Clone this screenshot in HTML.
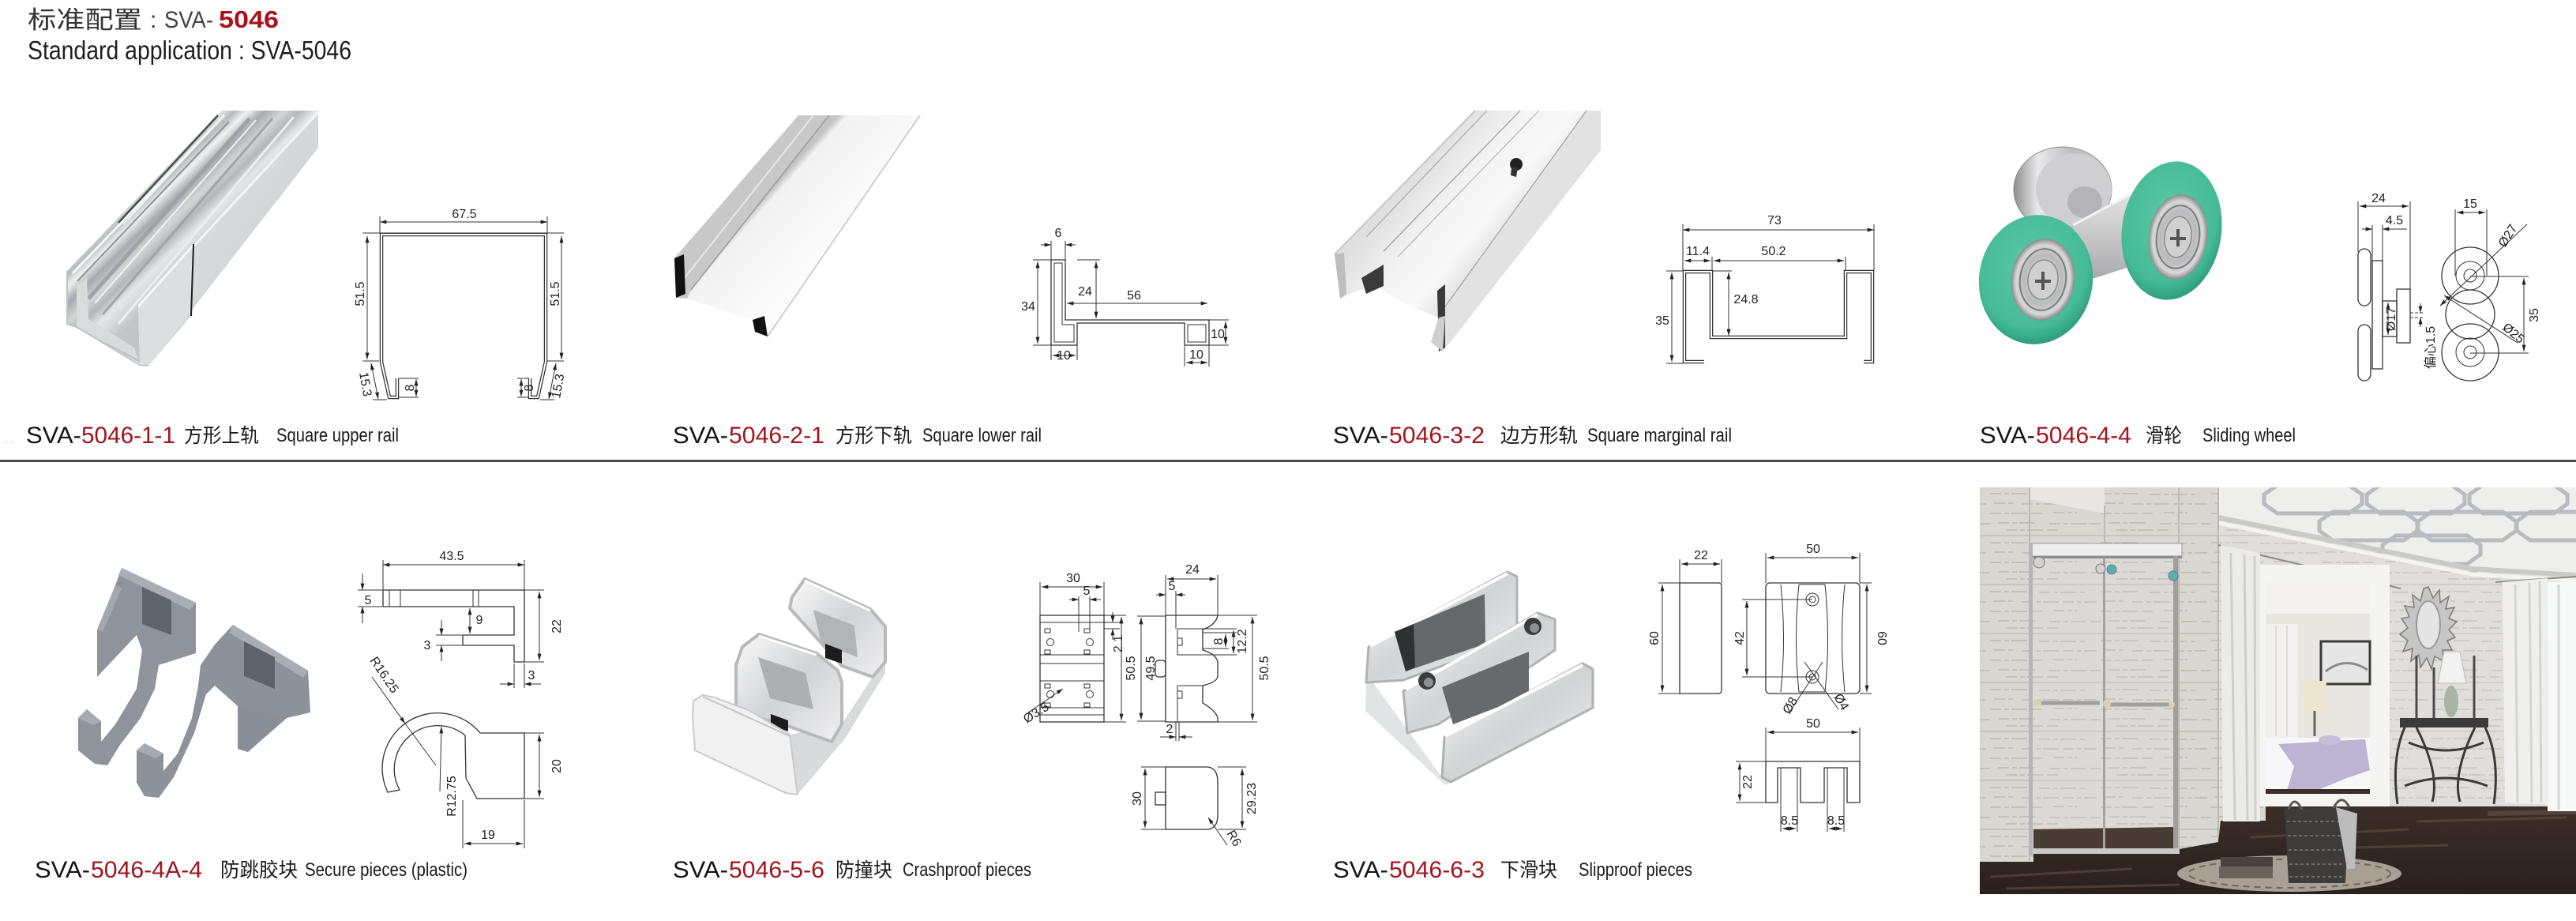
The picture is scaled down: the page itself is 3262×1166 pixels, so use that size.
<!DOCTYPE html>
<html><head><meta charset="utf-8">
<style>
html,body{margin:0;padding:0;background:#fff;}
svg{display:block}
.ln{stroke:#333;stroke-width:1.3;fill:none}
.dm{stroke:#333;stroke-width:1;fill:none}
.tx{font-family:"Liberation Sans",sans-serif;font-size:16px;fill:#222}
.lb{font-family:"Liberation Sans","Noto Sans CJK SC",sans-serif}
</style></head><body>
<svg width="3262" height="1166" viewBox="0 0 3262 1166" xmlns="http://www.w3.org/2000/svg">
<defs>
<marker id="a" viewBox="0 0 10 6" refX="10" refY="3" markerWidth="9" markerHeight="5" markerUnits="userSpaceOnUse" orient="auto-start-reverse"><path d="M0,0 L10,3 L0,6 Z" fill="#222"/></marker>
<linearGradient id="ch1" gradientUnits="userSpaceOnUse" x1="180" y1="236" x2="260" y2="318">
<stop offset="0" stop-color="#e9eaeb"/><stop offset=".12" stop-color="#b7bbbf"/><stop offset=".22" stop-color="#eef0f1"/><stop offset=".35" stop-color="#a6aaae"/><stop offset=".5" stop-color="#d3d6d8"/><stop offset=".62" stop-color="#b3b7bb"/><stop offset=".75" stop-color="#e4e6e7"/><stop offset="1" stop-color="#c2c5c8"/></linearGradient>
<linearGradient id="rf1" x1="0" y1="0" x2="1" y2="1"><stop offset="0" stop-color="#e3e5e6"/><stop offset="1" stop-color="#c8cbce"/></linearGradient>
<linearGradient id="r2" gradientUnits="userSpaceOnUse" x1="940" y1="230" x2="1040" y2="320"><stop offset="0" stop-color="#d6d6d6"/><stop offset=".25" stop-color="#c2c2c2"/><stop offset=".32" stop-color="#f2f2f2"/><stop offset="1" stop-color="#fbfbfb"/></linearGradient>
<linearGradient id="r3" gradientUnits="userSpaceOnUse" x1="1780" y1="230" x2="1900" y2="330"><stop offset="0" stop-color="#dedede"/><stop offset=".4" stop-color="#f4f4f4"/><stop offset=".7" stop-color="#f8f8f8"/><stop offset="1" stop-color="#d8d8d8"/></linearGradient>
<linearGradient id="sil" x1="0" y1="0" x2="1" y2="0"><stop offset="0" stop-color="#8e8e90"/><stop offset=".25" stop-color="#e9e9ea"/><stop offset=".6" stop-color="#bdbdbf"/><stop offset="1" stop-color="#d6d6d8"/></linearGradient>
<linearGradient id="axl" x1="0" y1="0" x2="0" y2="1"><stop offset="0" stop-color="#e6e6e6"/><stop offset="1" stop-color="#a9a9ab"/></linearGradient>
<radialGradient id="grn" cx=".45" cy=".4" r=".6"><stop offset="0" stop-color="#5cc9a5"/><stop offset=".8" stop-color="#45bb95"/><stop offset="1" stop-color="#2f9f7e"/></radialGradient>
<radialGradient id="brg" cx=".5" cy=".5" r=".5"><stop offset="0" stop-color="#e8e8e8"/><stop offset=".6" stop-color="#b9babb"/><stop offset=".85" stop-color="#d8d8d8"/><stop offset="1" stop-color="#8a8a8a"/></radialGradient>
<linearGradient id="chr" x1="0" y1="0" x2="1" y2="1"><stop offset="0" stop-color="#fafafa"/><stop offset=".5" stop-color="#d2d3d5"/><stop offset="1" stop-color="#f0f0f1"/></linearGradient>
<pattern id="tile" patternUnits="userSpaceOnUse" width="140" height="62" x="0" y="617">
<rect width="140" height="62" fill="#d9d7d2"/>
<path d="M0,8 H50 M62,9 H120 M5,20 H30 M40,21 H135 M0,33 H70 M80,32 H110 M10,45 H60 M75,46 H140 M20,54 H90" stroke="#b7b2aa" stroke-width="1.3" stroke-dasharray="14 4 6 3 20 5"/>
<path d="M0,61 H140" stroke="#c6c3bd" stroke-width="2"/>
</pattern>
<linearGradient id="flr" x1="0" y1="0" x2="0" y2="1"><stop offset="0" stop-color="#3e302a"/><stop offset="1" stop-color="#2a201c"/></linearGradient>
<clipPath id="ceil"><polygon points="2809,617 3262,617 3262,728 3130,720 2809,655"/></clipPath>
</defs>

<!-- HEADER -->
<text x="35" y="36" class="lb" font-size="31" fill="#333" textLength="145" lengthAdjust="spacingAndGlyphs">标准配置</text>
<text x="190" y="35" class="lb" font-size="30" fill="#333">:</text>
<text x="208" y="35" class="lb" font-size="30" fill="#444" textLength="62" lengthAdjust="spacingAndGlyphs">SVA-</text>
<text x="277" y="35" class="lb" font-size="31" font-weight="bold" fill="#a5141c" textLength="76" lengthAdjust="spacingAndGlyphs">5046</text>
<text x="35" y="75" class="lb" font-size="33" fill="#1e1e1e" textLength="410" lengthAdjust="spacingAndGlyphs">Standard application : SVA-5046</text>

<!-- LABELS ROW 1 -->
<g class="lb">
<text x="6" y="561" font-size="14" fill="#e0a9a9">.  .</text>
<text x="33" y="561" font-size="30" fill="#151515" textLength="70" lengthAdjust="spacingAndGlyphs">SVA-</text>
<text x="103" y="561" font-size="30" fill="#a3141c" textLength="119" lengthAdjust="spacingAndGlyphs">5046-1-1</text>
<text x="233" y="560" font-size="25" fill="#1a1a1a" textLength="95" lengthAdjust="spacingAndGlyphs">方形上轨</text>
<text x="350" y="559" font-size="24" fill="#1a1a1a" textLength="155" lengthAdjust="spacingAndGlyphs">Square upper rail</text>

<text x="852" y="561" font-size="30" fill="#151515" textLength="70" lengthAdjust="spacingAndGlyphs">SVA-</text>
<text x="923" y="561" font-size="30" fill="#a3141c" textLength="121" lengthAdjust="spacingAndGlyphs">5046-2-1</text>
<text x="1058" y="560" font-size="25" fill="#1a1a1a" textLength="97" lengthAdjust="spacingAndGlyphs">方形下轨</text>
<text x="1168" y="559" font-size="24" fill="#1a1a1a" textLength="151" lengthAdjust="spacingAndGlyphs">Square lower rail</text>

<text x="1688" y="561" font-size="30" fill="#151515" textLength="70" lengthAdjust="spacingAndGlyphs">SVA-</text>
<text x="1759" y="561" font-size="30" fill="#a3141c" textLength="121" lengthAdjust="spacingAndGlyphs">5046-3-2</text>
<text x="1900" y="560" font-size="25" fill="#1a1a1a" textLength="98" lengthAdjust="spacingAndGlyphs">边方形轨</text>
<text x="2010" y="559" font-size="24" fill="#1a1a1a" textLength="183" lengthAdjust="spacingAndGlyphs">Square marginal rail</text>

<text x="2507" y="561" font-size="30" fill="#151515" textLength="70" lengthAdjust="spacingAndGlyphs">SVA-</text>
<text x="2578" y="561" font-size="30" fill="#a3141c" textLength="121" lengthAdjust="spacingAndGlyphs">5046-4-4</text>
<text x="2717" y="560" font-size="25" fill="#1a1a1a" textLength="46" lengthAdjust="spacingAndGlyphs">滑轮</text>
<text x="2789" y="559" font-size="24" fill="#1a1a1a" textLength="118" lengthAdjust="spacingAndGlyphs">Sliding wheel</text>

<!-- LABELS ROW 2 -->
<text x="44" y="1111" font-size="30" fill="#151515" textLength="70" lengthAdjust="spacingAndGlyphs">SVA-</text>
<text x="115" y="1111" font-size="30" fill="#a3141c" textLength="141" lengthAdjust="spacingAndGlyphs">5046-4A-4</text>
<text x="279" y="1110" font-size="25" fill="#1a1a1a" textLength="98" lengthAdjust="spacingAndGlyphs">防跳胶块</text>
<text x="386" y="1109" font-size="24" fill="#1a1a1a" textLength="206" lengthAdjust="spacingAndGlyphs">Secure pieces (plastic)</text>

<text x="852" y="1111" font-size="30" fill="#151515" textLength="70" lengthAdjust="spacingAndGlyphs">SVA-</text>
<text x="923" y="1111" font-size="30" fill="#a3141c" textLength="121" lengthAdjust="spacingAndGlyphs">5046-5-6</text>
<text x="1058" y="1110" font-size="25" fill="#1a1a1a" textLength="72" lengthAdjust="spacingAndGlyphs">防撞块</text>
<text x="1143" y="1109" font-size="24" fill="#1a1a1a" textLength="163" lengthAdjust="spacingAndGlyphs">Crashproof pieces</text>

<text x="1688" y="1111" font-size="30" fill="#151515" textLength="70" lengthAdjust="spacingAndGlyphs">SVA-</text>
<text x="1759" y="1111" font-size="30" fill="#a3141c" textLength="121" lengthAdjust="spacingAndGlyphs">5046-6-3</text>
<text x="1900" y="1110" font-size="25" fill="#1a1a1a" textLength="72" lengthAdjust="spacingAndGlyphs">下滑块</text>
<text x="1999" y="1109" font-size="24" fill="#1a1a1a" textLength="144" lengthAdjust="spacingAndGlyphs">Slipproof pieces</text>
</g>

<!-- DIVIDER -->
<rect x="0" y="582" width="3262" height="3" fill="#4a4a4a"/>

<!-- PHOTO 1: upper rail -->
<g>
<polygon points="85,343 280,140 403,140 245,310 175,388 177,460 97,414 85,410" fill="url(#ch1)"/>
<path d="M92,346 L284,146" stroke="#f6f6f6" stroke-width="3"/>
<path d="M98,356 L290,154" stroke="#8f9498" stroke-width="2"/>
<path d="M150,282 L276,146" stroke="#4a4d50" stroke-width="2.5"/>
<path d="M156,284 L282,148" stroke="#f4f4f4" stroke-width="2"/>
<path d="M112,378 L316,150" stroke="#9ea3a7" stroke-width="5"/>
<path d="M120,384 L324,152" stroke="#f2f3f3" stroke-width="2"/>
<path d="M130,398 L345,150" stroke="#a0a5a9" stroke-width="3"/>
<path d="M150,410 L372,148" stroke="#eceeef" stroke-width="3"/>
<polygon points="175,388 245,310 242,400 188,463 177,460" fill="#dcdee0"/>
<path d="M175,388 L245,310" stroke="#f8f8f8" stroke-width="3"/>
<polygon points="245,310 403,140 403,187 188,463 242,400" fill="url(#rf1)"/>
<path d="M245,312 L403,142" stroke="#f5f5f5" stroke-width="3"/>
<path d="M245,309 L242,400" stroke="#1e1e1e" stroke-width="2"/>
<polygon points="97,362 110,352 112,404 170,440 175,455 97,414" fill="#d9dbdd"/>
<path d="M85,343 L85,410 L97,414 L177,462 L188,463" stroke="#bfc2c5" stroke-width="2" fill="none"/>
</g>

<!-- DRAWING 1 -->
<g>
<path class="dm" d="M481,281 H693" marker-start="url(#a)" marker-end="url(#a)"/>
<text class="tx" x="588" y="276" text-anchor="middle">67.5</text>
<path class="dm" d="M481,274 V296 M693,274 V296 M459,295 H714"/>
<path d="M503,479 V503 H493 L483,458 V297 H691 V458 L681,503 H671 V479" fill="none" stroke="#333" stroke-width="4.5"/>
<path d="M503,479 V503 H493 L483,458 V297 H691 V458 L681,503 H671 V479" fill="none" stroke="#fff" stroke-width="2"/>
<path class="dm" d="M465,299 V455" marker-start="url(#a)" marker-end="url(#a)"/>
<path class="dm" d="M711,299 V455" marker-start="url(#a)" marker-end="url(#a)"/>
<text class="tx" transform="translate(461,372) rotate(-90)" text-anchor="middle">51.5</text>
<text class="tx" transform="translate(708,372) rotate(-90)" text-anchor="middle">51.5</text>
<path class="dm" d="M459,457 H480 M693,457 H714"/>
<path class="dm" d="M470,460 L479,505" marker-start="url(#a)" marker-end="url(#a)"/>
<path class="dm" d="M704,460 L695,505" marker-start="url(#a)" marker-end="url(#a)"/>
<text class="tx" transform="translate(455,472) rotate(80)">15.3</text>
<text class="tx" transform="translate(709,505) rotate(-80)">15.3</text>
<path class="dm" d="M505,479 H530 M505,503 H530 M655,479 H670 M655,503 H670 M472,506 H490 M684,506 H702"/>
<path class="dm" d="M527,480 V502" marker-start="url(#a)" marker-end="url(#a)"/>
<path class="dm" d="M660,480 V502" marker-start="url(#a)" marker-end="url(#a)"/>
<text class="tx" transform="translate(524,491) rotate(-90)" text-anchor="middle">8</text>
<text class="tx" transform="translate(675,491) rotate(-90)" text-anchor="middle">8</text>
</g>

<!-- PHOTO 2: lower rail -->
<g>
<polygon points="1011,146 1165,146 972,426 953,420 954,405 870,378 856,377 854,327" fill="url(#r2)"/>
<polygon points="1011,146 1050,146 875,367 870,378 856,377 854,327" fill="#c8c8c8"/>
<path d="M1050,146 L875,367" stroke="#9a9a9a" stroke-width="1.5"/>
<path d="M1030,146 L862,358" stroke="#e8e8e8" stroke-width="2"/>
<path d="M1165,146 L972,426" stroke="#d0d0d0" stroke-width="2"/>
<polygon points="854,327 866,322 868,372 856,377" fill="#111"/>
<polygon points="953,405 968,400 972,426 956,420" fill="#111"/>
</g>

<!-- DRAWING 2 -->
<g>
<path class="ln" d="M1331,329 H1349 V405 H1531 V437 H1500 V409 H1364 V437 H1331 Z"/>
<path class="dm" d="M1335,333 H1345 V411 H1360 V433 H1335 Z M1504,411 H1527 V433 H1504 Z"/>
<path class="dm" d="M1331,305 V329 M1349,305 V329"/>
<path class="dm" d="M1318,310 H1331" marker-end="url(#a)"/>
<path class="dm" d="M1362,310 H1349" marker-end="url(#a)"/>
<text class="tx" x="1340" y="300" text-anchor="middle">6</text>
<path class="dm" d="M1308,329 H1331 M1364,329 H1393 M1308,437 H1331 M1531,405 H1556 M1531,437 H1556"/>
<path class="dm" d="M1314,331 V435" marker-start="url(#a)" marker-end="url(#a)"/>
<text class="tx" x="1302" y="393" text-anchor="middle">34</text>
<path class="dm" d="M1388,331 V403" marker-start="url(#a)" marker-end="url(#a)"/>
<text class="tx" x="1374" y="374" text-anchor="middle">24</text>
<path class="dm" d="M1351,384 H1529" marker-start="url(#a)" marker-end="url(#a)"/>
<text class="tx" x="1436" y="379" text-anchor="middle">56</text>
<path class="dm" d="M1552,407 V435" marker-start="url(#a)" marker-end="url(#a)"/>
<text class="tx" x="1542" y="428" text-anchor="middle">10</text>
<path class="dm" d="M1331,437 V456 M1364,437 V456 M1500,437 V464 M1531,437 V464"/>
<path class="dm" d="M1333,450 H1362" marker-start="url(#a)" marker-end="url(#a)"/>
<text class="tx" x="1347" y="455" text-anchor="middle">10</text>
<path class="dm" d="M1502,459 H1529" marker-start="url(#a)" marker-end="url(#a)"/>
<text class="tx" x="1515" y="454" text-anchor="middle">10</text>
</g>

<!-- PHOTO 3: marginal rail -->
<g>
<polygon points="1868,140 2027,140 2027,190 1827,445 1812,433 1822,402 1780,385 1738,360 1697,378 1690,322" fill="url(#r3)"/>
<polygon points="2009,140 2027,140 2027,190 1827,445 1825,395" fill="#e2e2e2"/>
<path d="M1690,322 L1868,140" stroke="#c6c6c6" stroke-width="2"/>
<path d="M1883,140 L1730,300" stroke="#a8a8a8" stroke-width="1.2"/>
<path d="M1925,140 L1752,318" stroke="#9a9a9a" stroke-width="1.2"/>
<path d="M1949,140 L1770,325" stroke="#b4b4b4" stroke-width="1.2"/>
<path d="M2009,140 L1825,395" stroke="#a0a0a0" stroke-width="1.2"/>
<polygon points="1690,322 1702,320 1705,372 1697,378" fill="#bdbdbd"/>
<polygon points="1724,352 1752,335 1752,362 1730,372" fill="#3a3a3a"/>
<polygon points="1820,368 1830,360 1830,440 1822,445" fill="#3a3a3a"/>
<polygon points="1812,433 1822,402 1830,400 1827,445" fill="#cfcfcf"/>
<circle cx="1920" cy="208" r="8" fill="#222"/>
<polygon points="1914,212 1922,212 1920,224 1913,222" fill="#333"/>
</g>

<!-- DRAWING 3 -->
<g>
<path class="dm" d="M2131,291 H2373" marker-start="url(#a)" marker-end="url(#a)"/>
<text class="tx" x="2247" y="284" text-anchor="middle">73</text>
<path class="dm" d="M2131,284 V343 M2373,284 V343 M2168,325 V343 M2337,325 V343"/>
<path class="dm" d="M2133,330 H2166" marker-start="url(#a)" marker-end="url(#a)"/>
<text class="tx" x="2150" y="323" text-anchor="middle">11.4</text>
<path class="dm" d="M2170,330 H2335" marker-start="url(#a)" marker-end="url(#a)"/>
<text class="tx" x="2246" y="323" text-anchor="middle">50.2</text>
<path d="M2158,458 H2133 V344 H2167 V427 H2337 V344 H2371 V458 H2360" fill="none" stroke="#333" stroke-width="4.5"/>
<path d="M2158,458 H2133 V344 H2167 V427 H2337 V344 H2371 V458 H2360" fill="none" stroke="#fff" stroke-width="2"/>
<path class="dm" d="M2110,343 H2131 M2110,460 H2131 M2168,343 H2193"/>
<path class="dm" d="M2117,345 V458" marker-start="url(#a)" marker-end="url(#a)"/>
<text class="tx" x="2105" y="411" text-anchor="middle">35</text>
<path class="dm" d="M2189,345 V425" marker-start="url(#a)" marker-end="url(#a)"/>
<text class="tx" x="2211" y="384" text-anchor="middle">24.8</text>
</g>

<!-- PHOTO 4: wheels -->
<g>
<ellipse cx="2612" cy="240" rx="62" ry="54" fill="url(#sil)" stroke="#8a8a8c" stroke-width="1"/>
<ellipse cx="2626" cy="240" rx="48" ry="46" fill="#cfcfd1"/>
<ellipse cx="2640" cy="256" rx="22" ry="20" fill="#b4b4b6"/>
<polygon points="2625,285 2709,240 2709,334 2640,356" fill="url(#axl)"/>
<path d="M2625,285 L2709,240" stroke="#f4f4f4" stroke-width="3"/>
<ellipse cx="2750" cy="292" rx="63" ry="88" transform="rotate(8 2750 292)" fill="url(#grn)"/>
<ellipse cx="2758" cy="300" rx="37" ry="54" transform="rotate(8 2758 300)" fill="url(#brg)"/>
<ellipse cx="2758" cy="300" rx="27" ry="40" transform="rotate(8 2758 300)" fill="none" stroke="#7c7c7c" stroke-width="2"/>
<ellipse cx="2758" cy="300" rx="17" ry="26" transform="rotate(8 2758 300)" fill="#d0d0d0" stroke="#8a8a8a" stroke-width="1.5"/>
<path d="M2748,302 H2768 M2758,290 V312" stroke="#555" stroke-width="4"/>
<ellipse cx="2578" cy="354" rx="72" ry="82" transform="rotate(8 2578 354)" fill="url(#grn)"/>
<ellipse cx="2587" cy="354" rx="40" ry="52" transform="rotate(8 2587 354)" fill="url(#brg)"/>
<ellipse cx="2587" cy="354" rx="29" ry="39" transform="rotate(8 2587 354)" fill="none" stroke="#7c7c7c" stroke-width="2"/>
<ellipse cx="2587" cy="354" rx="19" ry="25" transform="rotate(8 2587 354)" fill="#d0d0d0" stroke="#8a8a8a" stroke-width="1.5"/>
<path d="M2577,356 H2597 M2587,344 V367" stroke="#555" stroke-width="4"/>
</g>

<!-- DRAWING 4 -->
<g>
<path class="dm" d="M2988,261 H3050" marker-start="url(#a)" marker-end="url(#a)"/>
<text class="tx" x="3012" y="256" text-anchor="middle">24</text>
<path class="dm" d="M2986,255 V319 M3052,255 V367 M3004,285 V330 M3017,285 V330"/>
<path class="dm" d="M2991,290 H3004" marker-end="url(#a)"/>
<path class="dm" d="M3048,290 H3017" marker-end="url(#a)"/>
<text class="tx" x="3032" y="284" text-anchor="middle">4.5</text>
<rect class="ln" x="2986" y="315" width="16" height="72" rx="8"/>
<rect class="ln" x="2986" y="411" width="16" height="71" rx="8"/>
<rect class="ln" x="3004" y="330" width="13" height="137"/>
<rect class="ln" x="3017" y="381" width="18" height="45"/>
<rect class="ln" x="3035" y="366" width="17" height="68"/>
<path class="dm" d="M3024,383 V424" marker-start="url(#a)" marker-end="url(#a)"/>
<text class="tx" transform="translate(3033,404) rotate(-90)" text-anchor="middle">Ø17</text>
<path class="dm" d="M3052,396 H3070 M3052,402 H3070" stroke-dasharray="4 2"/>
<path class="dm" d="M3065,384 V396" marker-end="url(#a)"/>
<path class="dm" d="M3065,414 V402" marker-end="url(#a)"/>
<text class="lb" font-size="16" fill="#222" transform="translate(3083,440) rotate(-90)" text-anchor="middle">偏心1.5</text>
<circle class="ln" cx="3128" cy="398" r="31" fill="#fff"/>
<circle class="ln" cx="3128" cy="349" r="36" fill="#fff"/>
<circle class="dm" cx="3128" cy="349" r="18"/>
<circle class="dm" cx="3128" cy="349" r="8"/>
<circle class="ln" cx="3128" cy="446" r="36" fill="#fff"/>
<circle class="dm" cx="3128" cy="446" r="18"/>
<circle class="dm" cx="3128" cy="446" r="8"/>
<path class="dm" d="M3109,265 V349 M3149,265 V349"/>
<path class="dm" d="M3111,269 H3147" marker-start="url(#a)" marker-end="url(#a)"/>
<text class="tx" x="3128" y="263" text-anchor="middle">15</text>
<path class="dm" d="M3200,284 L3090,387" marker-end="url(#a)"/>
<text class="tx" transform="translate(3172,314) rotate(-58)">Ø27</text>
<path class="dm" d="M3128,350 H3202 M3128,447 H3202"/>
<path class="dm" d="M3196,352 V445" marker-start="url(#a)" marker-end="url(#a)"/>
<text class="tx" transform="translate(3214,399) rotate(-90)" text-anchor="middle">35</text>
<path class="dm" d="M3095,374 L3188,434" marker-start="url(#a)"/>
<text class="tx" transform="translate(3168,416) rotate(40)">Ø25</text>
</g>

<!-- PHOTO 5: hooks -->
<g>
<path d="M154,719 L248,763 L248,827 L201,842 L196,872 L178,909 L152,943 L136,969 L120,967 L99,950 L99,909 L110,898 L128,913 L128,939 L146,917 L173,872 L180,823 L173,804 L123,857 L123,797 L146,741 Z" fill="#8f949c"/>
<path d="M154,719 L248,763 L240,772 L150,728 Z" fill="#a9aeb5"/>
<polygon points="180,743 217,760 217,804 180,790" fill="#5f636a"/>
<path d="M123,797 L146,741 L154,745 L130,800 Z" fill="#a3a8af"/>
<path d="M99,909 L110,898 L128,913 L118,918 Z" fill="#a6abb2"/>
<path d="M295,791 L390,849 L393,902 L363,909 L314,952 L301,948 L301,894 L272,868 L261,879 L246,928 L220,984 L201,1010 L183,1008 L173,991 L173,950 L183,941 L207,954 L207,976 L225,954 L243,909 L251,868 L254,842 L272,816 Z" fill="#8d929a"/>
<path d="M295,791 L390,849 L384,858 L290,801 Z" fill="#a9aeb5"/>
<polygon points="309,812 348,832 348,872 309,856" fill="#5e6269"/>
<path d="M173,950 L183,941 L207,954 L197,960 Z" fill="#a6abb2"/>
<path d="M301,894 L363,909 L314,952 L301,948 Z" fill="#8a8f97"/>
</g>

<!-- DRAWING 5 -->
<g>
<path class="dm" d="M485,715 H664" marker-start="url(#a)" marker-end="url(#a)"/>
<text class="tx" x="572" y="709" text-anchor="middle">43.5</text>
<path class="dm" d="M485,709 V767 M664,709 V748"/>
<path class="ln" d="M485,747 H664 V838 H651 V817 H586 V804 H651 V768 H485 Z"/>
<path class="dm" d="M493,747 V768 M507,747 V768 M599,747 V768 M606,747 V768"/>
<path class="dm" d="M453,747 H484 M453,768 H484"/>
<path class="dm" d="M459,726 V747" marker-end="url(#a)"/>
<path class="dm" d="M459,789 V768" marker-end="url(#a)"/>
<text class="tx" x="466" y="765" text-anchor="middle">5</text>
<path class="dm" d="M595,770 V802" marker-start="url(#a)" marker-end="url(#a)"/>
<text class="tx" x="607" y="790" text-anchor="middle">9</text>
<path class="dm" d="M552,804 H585 M552,817 H585"/>
<path class="dm" d="M559,785 V804" marker-end="url(#a)"/>
<path class="dm" d="M559,837 V817" marker-end="url(#a)"/>
<text class="tx" x="541" y="822" text-anchor="middle">3</text>
<path class="dm" d="M664,747 H689 M664,838 H689"/>
<path class="dm" d="M683,749 V836" marker-start="url(#a)" marker-end="url(#a)"/>
<text class="tx" transform="translate(710,793) rotate(-90)" text-anchor="middle">22</text>
<path class="dm" d="M651,840 V871 M664,840 V871"/>
<path class="dm" d="M633,866 H651" marker-end="url(#a)"/>
<path class="dm" d="M685,866 H664" marker-end="url(#a)"/>
<text class="tx" x="673" y="860" text-anchor="middle">3</text>
<path class="ln" d="M491,1003 A70,70 0 0 1 608,928 L664,928 L664,1011 L604,1011 L590,985 L589,931 A55,55 0 0 0 506,1000 Z"/>
<path class="dm" d="M471,857 L513,916" marker-end="url(#a)"/>
<path class="dm" d="M513,916 L552,969"/>
<text class="tx" transform="translate(468,836) rotate(56)">R16.25</text>
<path class="dm" d="M557,1002 L559,920" marker-end="url(#a)"/>
<text class="tx" transform="translate(577,1008) rotate(-90)" text-anchor="middle">R12.75</text>
<path class="dm" d="M664,928 H689 M664,1011 H689"/>
<path class="dm" d="M683,930 V1009" marker-start="url(#a)" marker-end="url(#a)"/>
<text class="tx" transform="translate(710,970) rotate(-90)" text-anchor="middle">20</text>
<path class="dm" d="M586,1013 V1074 M664,1013 V1074"/>
<path class="dm" d="M588,1068 H662" marker-start="url(#a)" marker-end="url(#a)"/>
<text class="tx" x="618" y="1062" text-anchor="middle">19</text>
</g>

<!-- PHOTO 6: crashproof -->
<g stroke-linejoin="round">
<polygon points="1000,930 1066,917 1105,857 1121,838 1121,852 1070,935 1010,1006" fill="#d9dadc"/>
<polygon points="1003,756 1019,733 1102,771 1121,793 1121,838 1105,857 1066,843 1000,770" fill="url(#chr)" stroke="#b8b9bb" stroke-width="4"/>
<polygon points="1030,772 1082,792 1086,832 1040,815" fill="#b3b4b6"/>
<polygon points="1045,815 1066,823 1066,840 1045,833" fill="#1c1c1c"/>
<path d="M1019,735 L1102,773" stroke="#ffffff" stroke-width="3"/>
<polygon points="932,842 940,819 961,803 1034,827 1061,849 1066,864 1066,917 1053,939 1000,920 932,900" fill="url(#chr)" stroke="#b8b9bb" stroke-width="4"/>
<polygon points="960,832 1020,852 1030,898 975,884" fill="#aeafb1"/>
<polygon points="976,904 998,912 998,926 976,918" fill="#1c1c1c"/>
<path d="M961,805 L1034,829" stroke="#ffffff" stroke-width="3"/>
<polygon points="878,887 890,880 905,883 950,900 1000,930 1010,1006 995,1004 880,950 877,905" fill="#f1f1f2" stroke="#c9cacc" stroke-width="2"/>
<path d="M890,882 L1000,932" stroke="#c4c5c7" stroke-width="2"/>
</g>

<!-- DRAWING 6 -->
<g>
<path class="dm" d="M1317,737 V779 M1398,737 V779"/>
<path class="dm" d="M1319,743 H1396" marker-start="url(#a)" marker-end="url(#a)"/>
<text class="tx" x="1359" y="737" text-anchor="middle">30</text>
<path class="dm" d="M1366,755 V800 M1380,755 V800"/>
<path class="dm" d="M1354,759 H1366" marker-end="url(#a)"/>
<path class="dm" d="M1394,759 H1380" marker-end="url(#a)"/>
<text class="tx" x="1376" y="753" text-anchor="middle">5</text>
<rect class="ln" x="1317" y="779" width="81" height="135"/>
<path class="dm" d="M1317,788 H1398 M1317,829 H1398 M1317,840 H1398 M1317,862 H1398 M1317,896 H1398 M1317,905 H1398"/>
<path class="dm" d="M1323,796 h7 v5 h-7 Z M1373,796 h7 v5 h-7 Z M1323,823 h7 v5 h-7 Z M1373,823 h7 v5 h-7 Z M1323,866 h7 v5 h-7 Z M1373,866 h7 v5 h-7 Z M1323,890 h7 v5 h-7 Z M1373,890 h7 v5 h-7 Z"/>
<circle class="dm" cx="1330" cy="813" r="4.5"/><circle class="dm" cx="1380" cy="813" r="4.5"/>
<circle class="dm" cx="1330" cy="879" r="4.5"/><circle class="dm" cx="1380" cy="879" r="4.5"/>
<path class="dm" d="M1398,788 H1418 M1398,796 H1418"/>
<path class="dm" d="M1409,775 V788" marker-end="url(#a)"/>
<path class="dm" d="M1409,810 V796" marker-end="url(#a)"/>
<text class="tx" transform="translate(1421,815) rotate(-90)" text-anchor="middle">2.1</text>
<path class="dm" d="M1398,779 H1426 M1398,914 H1426"/>
<path class="dm" d="M1420,781 V912" marker-start="url(#a)" marker-end="url(#a)"/>
<text class="tx" transform="translate(1437,846) rotate(-90)" text-anchor="middle">50.5</text>
<path class="dm" d="M1298,905 L1346,872" marker-end="url(#a)"/>
<text class="tx" transform="translate(1300,916) rotate(-32)">Ø3.5</text>
<path class="dm" d="M1476,728 V779 M1542,728 V779 M1489,748 V796"/>
<path class="dm" d="M1478,733 H1540" marker-start="url(#a)" marker-end="url(#a)"/>
<text class="tx" x="1510" y="726" text-anchor="middle">24</text>
<path class="dm" d="M1464,753 H1476" marker-end="url(#a)"/>
<path class="dm" d="M1501,753 H1489" marker-end="url(#a)"/>
<text class="tx" x="1484" y="747" text-anchor="middle">5</text>
<path class="ln" d="M1476,779 H1542 Q1540,791 1523,797 V823 Q1540,828 1542,838 V857 Q1540,864 1523,868 V890 Q1540,900 1542,909 V914 H1476 Z"/>
<path class="dm" d="M1491,796 H1523 M1491,796 V829 H1523 M1491,868 H1523 M1491,868 V914"/>
<rect class="dm" x="1491" y="808" width="6" height="9"/>
<rect class="dm" x="1491" y="875" width="6" height="9"/>
<rect class="ln" x="1463" y="836" width="13" height="21" rx="4"/>
<path class="dm" d="M1523,801 H1566 M1523,821 H1556 M1523,796 H1566 M1523,829 H1566"/>
<path class="dm" d="M1552,803 V819" marker-start="url(#a)" marker-end="url(#a)"/>
<text class="tx" transform="translate(1548,812) rotate(-90)" text-anchor="middle">8</text>
<path class="dm" d="M1562,798 V827" marker-start="url(#a)" marker-end="url(#a)"/>
<text class="tx" transform="translate(1578,812) rotate(-90)" text-anchor="middle">12.2</text>
<path class="dm" d="M1440,780 H1476 M1440,913 H1476"/>
<path class="dm" d="M1445,782 V911" marker-start="url(#a)" marker-end="url(#a)"/>
<text class="tx" transform="translate(1462,846) rotate(-90)" text-anchor="middle">49.5</text>
<path class="dm" d="M1542,779 H1592 M1542,914 H1592"/>
<path class="dm" d="M1586,781 V912" marker-start="url(#a)" marker-end="url(#a)"/>
<text class="tx" transform="translate(1606,846) rotate(-90)" text-anchor="middle">50.5</text>
<path class="dm" d="M1489,914 V938 M1493,914 V938"/>
<path class="dm" d="M1469,933 H1489" marker-end="url(#a)"/>
<path class="dm" d="M1510,933 H1493" marker-end="url(#a)"/>
<text class="tx" x="1481" y="928" text-anchor="middle">2</text>
<path class="ln" d="M1476,971 H1530 Q1542,973 1542,990 V1032 Q1542,1048 1530,1050 H1476 Z"/>
<rect class="ln" x="1463" y="1003" width="13" height="16"/>
<path class="dm" d="M1445,971 H1476 M1445,1050 H1476 M1542,971 H1578 M1542,1050 H1578"/>
<path class="dm" d="M1450,973 V1048" marker-start="url(#a)" marker-end="url(#a)"/>
<text class="tx" transform="translate(1445,1011) rotate(-90)" text-anchor="middle">30</text>
<path class="dm" d="M1573,973 V1048" marker-start="url(#a)" marker-end="url(#a)"/>
<text class="tx" transform="translate(1590,1011) rotate(-90)" text-anchor="middle">29.23</text>
<path class="dm" d="M1530,1035 L1554,1070" marker-start="url(#a)"/>
<text class="tx" transform="translate(1553,1055) rotate(60)">R6</text>
</g>

<!-- PHOTO 7: slipproof -->
<g stroke-linejoin="round">
<polygon points="1730,864 1737,862 1826,984 1837,990 1830,994 1729,900" fill="#e2e3e5"/>
<polygon points="1733,819 1909,724 1921,730 1921,801 1881,823 1777,861 1730,864" fill="url(#chr)" stroke="#b0b1b3" stroke-width="3"/>
<path d="M1735,818 L1909,726" stroke="#fff" stroke-width="4"/>
<polygon points="1766,800 1880,752 1881,815 1780,850" fill="#66686b"/>
<polygon points="1766,800 1790,790 1792,845 1780,850" fill="#303133"/>
<polygon points="1777,875 1947,776 1969,784 1969,823 1941,842 1821,917 1782,928" fill="url(#chr)" stroke="#b0b1b3" stroke-width="3"/>
<path d="M1780,873 L1947,778" stroke="#fff" stroke-width="4"/>
<polygon points="1826,870 1936,825 1936,880 1840,917" fill="#67696c"/>
<circle cx="1941" cy="793" r="11" fill="#3b3c3e"/><circle cx="1943" cy="795" r="6" fill="#8d8f92"/>
<circle cx="1807" cy="862" r="11" fill="#3b3c3e"/><circle cx="1809" cy="864" r="6" fill="#8d8f92"/>
<polygon points="1829,933 2004,840 2017,847 2017,896 1837,990 1826,984" fill="url(#chr)" stroke="#b0b1b3" stroke-width="3"/>
<path d="M1830,932 L2004,842" stroke="#fff" stroke-width="4"/>
</g>

<!-- DRAWING 7 -->
<g>
<path class="dm" d="M2127,708 V738 M2180,708 V738"/>
<path class="dm" d="M2129,714 H2178" marker-start="url(#a)" marker-end="url(#a)"/>
<text class="tx" x="2154" y="708" text-anchor="middle">22</text>
<path class="ln" d="M2127,738 H2176 Q2180,738 2180,742 V874 Q2180,878 2176,878 H2127 Z"/>
<path class="dm" d="M2100,738 H2127 M2100,878 H2127"/>
<path class="dm" d="M2105,740 V876" marker-start="url(#a)" marker-end="url(#a)"/>
<text class="tx" transform="translate(2100,808) rotate(-90)" text-anchor="middle">60</text>
<path class="dm" d="M2236,700 V738 M2355,700 V738"/>
<path class="dm" d="M2238,706 H2353" marker-start="url(#a)" marker-end="url(#a)"/>
<text class="tx" x="2296" y="700" text-anchor="middle">50</text>
<rect class="ln" x="2236" y="738" width="119" height="140" rx="5"/>
<path class="dm" d="M2255,740 Q2262,808 2255,876 M2278,740 Q2271,808 2278,876 M2311,740 Q2318,808 2311,876 M2336,740 Q2329,808 2336,876 M2278,740 H2311 M2278,876 H2311"/>
<circle class="dm" cx="2295" cy="759" r="8"/><circle class="dm" cx="2295" cy="759" r="4"/>
<circle class="dm" cx="2295" cy="857" r="8"/><circle class="dm" cx="2295" cy="857" r="4"/>
<path class="dm" d="M2206,759 H2295 M2206,857 H2295"/>
<path class="dm" d="M2212,761 V855" marker-start="url(#a)" marker-end="url(#a)"/>
<text class="tx" transform="translate(2208,808) rotate(-90)" text-anchor="middle">42</text>
<path class="dm" d="M2355,738 H2370 M2355,878 H2370"/>
<path class="dm" d="M2364,740 V876" marker-start="url(#a)" marker-end="url(#a)"/>
<text class="tx" transform="translate(2378,808) rotate(90)" text-anchor="middle">60</text>
<path class="dm" d="M2267,900 L2308,838 M2285,838 L2328,898"/>
<text class="tx" transform="translate(2266,905) rotate(-60)">Ø8</text>
<text class="tx" transform="translate(2322,882) rotate(60)">Ø4</text>
<path class="dm" d="M2236,921 V964 M2355,921 V964"/>
<path class="dm" d="M2238,927 H2353" marker-start="url(#a)" marker-end="url(#a)"/>
<text class="tx" x="2296" y="921" text-anchor="middle">50</text>
<path class="ln" d="M2236,964 H2355 V1016 H2339 V972 H2310 V1016 H2280 V972 H2251 V1016 H2236 Z"/>
<path class="dm" d="M2255,972 V1016 M2276,972 V1016 M2314,972 V1016 M2335,972 V1016"/>
<path class="dm" d="M2198,964 H2236 M2198,1016 H2236"/>
<path class="dm" d="M2203,966 V1014" marker-start="url(#a)" marker-end="url(#a)"/>
<text class="tx" transform="translate(2218,990) rotate(-90)" text-anchor="middle">22</text>
<path class="dm" d="M2255,1016 V1053 M2276,1016 V1053 M2314,1016 V1053 M2335,1016 V1053"/>
<path class="dm" d="M2257,1049 H2274" marker-start="url(#a)" marker-end="url(#a)"/>
<text class="tx" x="2266" y="1044" text-anchor="middle" font-size="14">8.5</text>
<path class="dm" d="M2316,1049 H2333" marker-start="url(#a)" marker-end="url(#a)"/>
<text class="tx" x="2325" y="1044" text-anchor="middle" font-size="14">8.5</text>
</g>

<!-- ROOM PHOTO -->
<g>
<rect x="2507" y="617" width="755" height="515" fill="url(#tile)"/>
<polygon points="2809,655 3130,720 3262,728 3262,1020 2809,1020" fill="#ffffff" opacity=".18"/>
<polygon points="2809,617 3262,617 3262,728 3130,720 2809,655" fill="#eeeeec"/>
<g clip-path="url(#ceil)" fill="none" stroke="#b9bbbe" stroke-width="5">
<polygon points="2867,626 2884,614 2974,614 2991,626 2991,638 2974,650 2884,650 2867,638"/>
<polygon points="2997,626 3014,614 3104,614 3121,626 3121,638 3104,650 3014,650 2997,638"/>
<polygon points="3127,626 3144,614 3234,614 3251,626 3251,638 3234,650 3144,650 3127,638"/>
<polygon points="2937,660 2954,648 3044,648 3061,660 3061,672 3044,684 2954,684 2937,672"/>
<polygon points="3062,660 3079,648 3169,648 3186,660 3186,672 3169,684 3079,684 3062,672"/>
<polygon points="3187,660 3204,648 3294,648 3311,660 3311,672 3294,684 3204,684 3187,672"/>
<polygon points="3017,690 3034,678 3124,678 3141,690 3141,702 3124,714 3034,714 3017,702"/>
</g>
<path d="M2809,655 L3130,720 L3262,728" stroke="#c9c9c7" stroke-width="6" fill="none"/>
<path d="M2809,662 L3130,727 L3262,735" stroke="#f4f4f2" stroke-width="5" fill="none"/>
<polygon points="2570,617 2665,617 2665,650 2570,632" fill="#e8e7e4"/>
<path d="M2570,617 V1090 M2759,617 V1075 M2809,617 V1068 M2665,640 V1075" stroke="#bcb9b3" stroke-width="2"/>
<!-- floor -->
<polygon points="2507,1132 2507,1091 2575,1091 2575,1081 2759,1075 2809,1066 2812,1039 2869,1039 2869,1004 3001,1004 3026,1021 3262,1021 3262,1132" fill="url(#flr)"/>
<path d="M2520,1110 L2700,1100 M2850,1060 L3050,1050 M3060,1040 L3250,1035 M2540,1125 L2760,1120 M2900,1075 L3100,1070" stroke="#5a4940" stroke-width="3" opacity=".7"/>
<path d="M3150,1030 L3262,1028" stroke="#6b5a50" stroke-width="6" opacity=".5"/>
<!-- shower door -->
<rect x="2575" y="703" width="180" height="372" fill="#e9eef0" opacity=".15"/>
<polygon points="2575,1050 2752,1047 2752,1078 2575,1081" fill="#4a3b34"/>
<rect x="2570" y="688" width="193" height="16" fill="#eeeeee" stroke="#9a9a9a" stroke-width="1"/>
<rect x="2570" y="704" width="193" height="3" fill="#8c8c8c"/>
<rect x="2569" y="688" width="5" height="395" fill="#b5b5b5"/>
<rect x="2752" y="704" width="6" height="375" fill="#9f9f9f"/>
<rect x="2663" y="707" width="3" height="368" fill="#a4a4a4"/>
<rect x="2574" y="1074" width="186" height="7" fill="#c9c9c9"/>
<path d="M2580,890 H2659 M2668,892 H2750" stroke="#a0a0a0" stroke-width="5"/>
<circle cx="2580" cy="890" r="5" fill="#d8d2b2"/><circle cx="2668" cy="891" r="5" fill="#d8d2b2"/><circle cx="2750" cy="892" r="4" fill="#d8d2b2"/>
<circle cx="2582" cy="712" r="7" fill="#d2d2d2" stroke="#777"/>
<circle cx="2660" cy="720" r="6" fill="#d2d2d2" stroke="#777"/>
<circle cx="2674" cy="721" r="6" fill="#5ab0b0" stroke="#777"/>
<circle cx="2752" cy="729" r="6" fill="#5ab0b0" stroke="#777"/>
<!-- left curtain & rod -->
<path d="M2809,690 L3040,745" stroke="#8a8a8a" stroke-width="2"/>
<polygon points="2812,690 2862,700 2862,1040 2815,1040" fill="#ebebe8"/>
<path d="M2825,700 L2830,1038 M2842,702 L2846,1038 M2855,704 L2856,1038" stroke="#cfcfcb" stroke-width="3"/>
<!-- doorway -->
<rect x="2862" y="715" width="164" height="306" fill="#f4f4f2"/>
<rect x="2869" y="737" width="132" height="268" fill="#e8e6e1"/>
<rect x="2869" y="737" width="132" height="40" fill="#f3f2ef"/>
<polygon points="2869,790 2910,790 2910,934 2869,934" fill="#f1f0ee"/>
<path d="M2882,792 V932 M2896,792 V932" stroke="#dcdbd8" stroke-width="2"/>
<rect x="2939" y="812" width="62" height="54" fill="#e6e6e6" stroke="#3a3a3a" stroke-width="3"/>
<path d="M2945,850 Q2970,830 2998,848" stroke="#8a8a8a" stroke-width="3" fill="none"/>
<polygon points="2916,862 2946,862 2944,900 2918,900" fill="#efe4cc"/>
<path d="M2931,900 V932" stroke="#6a6660" stroke-width="3"/>
<rect x="2869" y="934" width="132" height="66" fill="#f7f7f9"/>
<polygon points="2885,942 2995,936 3001,975 2972,985 2935,1000 2895,1004 2905,970" fill="#bbb4d2"/>
<ellipse cx="2950" cy="937" rx="14" ry="6" fill="#c5bedb"/>
<rect x="2869" y="999" width="132" height="6" fill="#3a2e28"/>
<!-- mirror -->
<g transform="translate(3075,795)">
<polygon points="0,-52 6,-38 14,-48 15,-32 26,-40 22,-24 33,-26 26,-12 36,-8 26,2 34,12 24,16 30,28 18,28 20,42 8,36 4,52 -2,38 -10,50 -12,34 -22,42 -20,26 -32,30 -26,16 -36,8 -26,0 -34,-12 -24,-14 -30,-28 -18,-26 -20,-42 -10,-34 -6,-50" fill="#c6c6c6" stroke="#7c7c7c" stroke-width="1.5"/>
<ellipse cx="0" cy="-4" rx="15" ry="30" fill="#e4e4e4" stroke="#9a9a9a" stroke-width="2"/>
</g>
<!-- console -->
<path d="M3060,830 V910 M3082,845 V910 M3133,830 V910" stroke="#4a4a4a" stroke-width="3"/>
<polygon points="3095,825 3115,825 3123,865 3087,865" fill="#f2f2f2" stroke="#bbb"/>
<ellipse cx="3104" cy="888" rx="9" ry="20" fill="#a9b3a8"/>
<rect x="3039" y="909" width="112" height="12" fill="#3b3b3b"/>
<path d="M3045,921 Q3028,960 3036,1018 M3147,921 Q3166,960 3158,1018 M3050,940 Q3097,960 3145,940 M3060,921 Q3090,980 3080,1015 M3134,921 Q3105,980 3115,1015 M3045,995 Q3097,975 3150,995" stroke="#3a3a3a" stroke-width="3" fill="none"/>
<!-- right curtain & window -->
<path d="M3160,737 L3262,730" stroke="#8a8a8a" stroke-width="2"/>
<rect x="3226" y="737" width="36" height="290" fill="#f7f8f8"/>
<path d="M3240,740 V1025" stroke="#d6d6d6" stroke-width="3"/>
<polygon points="3169,737 3226,732 3228,1018 3172,1016" fill="#efefed"/>
<path d="M3185,740 L3188,1016 M3203,738 L3206,1016 M3216,736 L3218,1016" stroke="#d4d4d0" stroke-width="3"/>
<!-- rug, books, basket -->
<ellipse cx="2899" cy="1106" rx="142" ry="23" fill="#a9a095"/>
<ellipse cx="2899" cy="1106" rx="128" ry="18" fill="none" stroke="#6f675e" stroke-width="2" stroke-dasharray="8 6"/>
<rect x="2812" y="1085" width="66" height="12" fill="#4a423c"/>
<rect x="2810" y="1097" width="68" height="15" fill="#6a615a"/>
<polygon points="2893,1024 2975,1022 2970,1118 2898,1118" fill="#3d3c3b"/>
<path d="M2896,1040 H2972 M2897,1058 H2971 M2898,1076 H2970 M2899,1094 H2969 M2899,1110 H2969" stroke="#6a6866" stroke-width="2" stroke-dasharray="4 3"/>
<path d="M2898,1025 Q2905,1005 2915,1025 M2955,1023 Q2965,1003 2975,1022" stroke="#5a5856" stroke-width="3" fill="none"/>
<polygon points="2958,1022 2985,1030 2982,1100 2972,1100" fill="#bcbcbc"/>
</g>
</svg>
</body></html>
